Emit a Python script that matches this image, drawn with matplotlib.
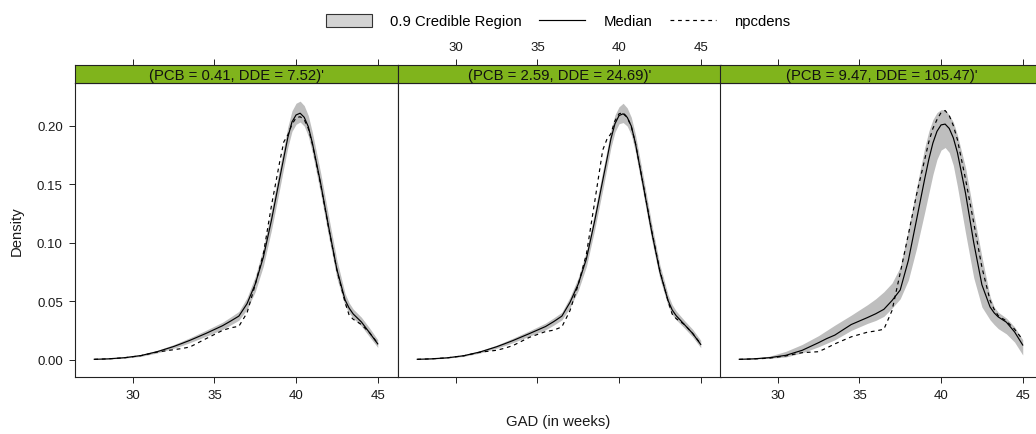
import matplotlib
matplotlib.use("Agg")
import matplotlib.pyplot as plt
from matplotlib.patches import Patch
from matplotlib.lines import Line2D

plt.rcParams['font.family'] = ['Liberation Sans', 'DejaVu Sans']

# ---------------- data ----------------
gad_weeks = [27.65, 28.5, 29.5, 30.5, 31.5, 32.5, 33.0, 33.5, 34.5, 35.5, 36.0, 36.5,
             37.0, 37.5, 38.0, 38.5, 39.0, 39.25, 39.5, 39.75, 40.0, 40.25, 40.5,
             40.75, 41.0, 41.5, 42.0, 42.5, 43.0, 43.25, 43.5, 44.0, 44.5, 45.0]

strip_labels = ["(PCB = 0.41, DDE = 7.52)'",
                "(PCB = 2.59, DDE = 24.69)'",
                "(PCB = 9.47, DDE = 105.47)'"]

median_1 = [0.0003, 0.0007, 0.0017, 0.0035, 0.0068, 0.0112, 0.0138, 0.0165, 0.0225, 0.0290, 0.0330, 0.0372,
            0.0478, 0.0645, 0.0876, 0.1195, 0.1550, 0.1725, 0.1900, 0.2030, 0.2090, 0.2105, 0.2070,
            0.1990, 0.1850, 0.1510, 0.1130, 0.0770, 0.0510, 0.0440, 0.0390, 0.0322, 0.0230, 0.0135]
lower_1 = [0.0002, 0.0005, 0.0013, 0.0028, 0.0057, 0.0097, 0.0120, 0.0145, 0.0200, 0.0258, 0.0297, 0.0337,
           0.0430, 0.0580, 0.0800, 0.1110, 0.1460, 0.1640, 0.1815, 0.1950, 0.2010, 0.2030, 0.1995,
           0.1910, 0.1765, 0.1420, 0.1045, 0.0695, 0.0460, 0.0400, 0.0355, 0.0287, 0.0195, 0.0105]
upper_1 = [0.0005, 0.0010, 0.0022, 0.0043, 0.0080, 0.0128, 0.0157, 0.0187, 0.0252, 0.0320, 0.0365, 0.0412,
           0.0530, 0.0710, 0.0955, 0.1285, 0.1640, 0.1815, 0.1990, 0.2125, 0.2190, 0.2208, 0.2170,
           0.2085, 0.1940, 0.1600, 0.1220, 0.0850, 0.0565, 0.0485, 0.0432, 0.0362, 0.0270, 0.0170]
npcdens_1 = [0.0003, 0.0007, 0.0016, 0.0034, 0.0065, 0.0085, 0.0095, 0.0108, 0.0180, 0.0250, 0.0272, 0.0285,
             0.0400, 0.0640, 0.0905, 0.1320, 0.1690, 0.1860, 0.1920, 0.2010, 0.2065, 0.2075, 0.2050,
             0.1975, 0.1840, 0.1500, 0.1120, 0.0765, 0.0490, 0.0380, 0.0345, 0.0300, 0.0230, 0.0140]

median_2 = [0.0003, 0.0007, 0.0016, 0.0034, 0.0066, 0.0110, 0.0136, 0.0163, 0.0222, 0.0283, 0.0325, 0.0372,
            0.0490, 0.0645, 0.0860, 0.1180, 0.1530, 0.1705, 0.1885, 0.2015, 0.2085, 0.2100, 0.2070,
            0.1995, 0.1850, 0.1475, 0.1090, 0.0750, 0.0505, 0.0425, 0.0375, 0.0300, 0.0225, 0.0130]
lower_2 = [0.0002, 0.0005, 0.0013, 0.0028, 0.0057, 0.0097, 0.0120, 0.0145, 0.0200, 0.0255, 0.0295, 0.0340,
           0.0445, 0.0590, 0.0795, 0.1105, 0.1450, 0.1630, 0.1810, 0.1945, 0.2015, 0.2025, 0.1995,
           0.1920, 0.1775, 0.1400, 0.1020, 0.0690, 0.0460, 0.0385, 0.0340, 0.0270, 0.0195, 0.0102]
upper_2 = [0.0005, 0.0010, 0.0021, 0.0041, 0.0077, 0.0124, 0.0153, 0.0183, 0.0246, 0.0312, 0.0357, 0.0405,
           0.0535, 0.0700, 0.0925, 0.1255, 0.1610, 0.1780, 0.1960, 0.2090, 0.2160, 0.2190, 0.2150,
           0.2070, 0.1925, 0.1550, 0.1160, 0.0810, 0.0555, 0.0470, 0.0415, 0.0335, 0.0260, 0.0165]
npcdens_2 = [0.0003, 0.0007, 0.0016, 0.0033, 0.0064, 0.0080, 0.0098, 0.0120, 0.0190, 0.0240, 0.0252, 0.0280,
             0.0420, 0.0640, 0.0900, 0.1340, 0.1790, 0.1880, 0.1930, 0.2040, 0.2100, 0.2110, 0.2070,
             0.1990, 0.1850, 0.1480, 0.1100, 0.0760, 0.0500, 0.0390, 0.0350, 0.0300, 0.0225, 0.0135]

median_3 = [0.0003, 0.0007, 0.0017, 0.0037, 0.0080, 0.0145, 0.0180, 0.0210, 0.0300, 0.0360, 0.0392, 0.0430,
            0.0505, 0.0595, 0.0848, 0.1195, 0.1545, 0.1710, 0.1850, 0.1950, 0.2005, 0.2012, 0.1975,
            0.1895, 0.1770, 0.1420, 0.1000, 0.0640, 0.0450, 0.0400, 0.0365, 0.0320, 0.0237, 0.0125]
lower_3 = [0.0002, 0.0005, 0.0012, 0.0023, 0.0058, 0.0110, 0.0140, 0.0170, 0.0250, 0.0310, 0.0335, 0.0370,
           0.0440, 0.0520, 0.0680, 0.0950, 0.1260, 0.1420, 0.1580, 0.1710, 0.1790, 0.1812, 0.1770,
           0.1660, 0.1480, 0.1080, 0.0700, 0.0450, 0.0340, 0.0300, 0.0265, 0.0220, 0.0150, 0.0040]
upper_3 = [0.0006, 0.0012, 0.0030, 0.0071, 0.0130, 0.0205, 0.0250, 0.0295, 0.0380, 0.0470, 0.0520, 0.0580,
           0.0655, 0.0790, 0.1110, 0.1470, 0.1810, 0.1950, 0.2050, 0.2110, 0.2135, 0.2134, 0.2090,
           0.2030, 0.1920, 0.1640, 0.1250, 0.0880, 0.0540, 0.0450, 0.0405, 0.0355, 0.0280, 0.0170]
npcdens_3 = [0.0003, 0.0006, 0.0013, 0.0032, 0.0060, 0.0068, 0.0100, 0.0135, 0.0195, 0.0235, 0.0245, 0.0260,
             0.0420, 0.0740, 0.1070, 0.1410, 0.1710, 0.1860, 0.1975, 0.2050, 0.2110, 0.2128, 0.2085,
             0.2000, 0.1880, 0.1540, 0.1170, 0.0790, 0.0506, 0.0430, 0.0375, 0.0330, 0.0260, 0.0170]

x_ticks = [30, 35, 40, 45]
y_ticks = [0.00, 0.05, 0.10, 0.15, 0.20]
y_tick_labels = ["0.00", "0.05", "0.10", "0.15", "0.20"]

panels = [
    (median_1, lower_1, upper_1, npcdens_1),
    (median_2, lower_2, upper_2, npcdens_2),
    (median_3, lower_3, upper_3, npcdens_3),
]

# ---------------- layout ----------------
W, H = 1036, 435
fig = plt.figure(figsize=(W / 100, H / 100), dpi=100)

panel_left_px = [75, 398, 720]
panel_w_px = 323
panel_top_px, panel_bot_px = 84, 378
strip_top_px = 66

XLIM = (26.47, 46.24)
YLIM = (-0.0148, 0.2363)
STRIP_COL = '#80B41C'
BAND_COL = '#BEBEBE'
FRAME_COL = '#222222'
TICK_FS = 9.5
TEXT_FS = 10.7

for i, (med, lo, hi, npc) in enumerate(panels):
    l = panel_left_px[i] / W
    w = panel_w_px / W
    b = 1 - panel_bot_px / H
    h = (panel_bot_px - panel_top_px) / H
    ax = fig.add_axes([l, b, w, h])
    ax.fill_between(gad_weeks, lo, hi, color=BAND_COL, lw=0)
    ax.plot(gad_weeks, med, color='black', lw=0.85)
    ax.plot(gad_weeks, npc, color='black', lw=0.85, dashes=(3.2, 3.2))
    ax.set_xlim(*XLIM)
    ax.set_ylim(*YLIM)
    for sp in ax.spines.values():
        sp.set_color(FRAME_COL)
        sp.set_linewidth(0.8)
    ax.set_xticks(x_ticks)
    ax.set_yticks(y_ticks)
    ax.set_yticklabels(y_tick_labels)
    ax.tick_params(direction='out', length=4.3, width=0.7, color=FRAME_COL,
                   labelsize=TICK_FS, labelcolor='#1a1a1a', pad=4.5)
    ax.tick_params(axis='x', top=False, bottom=True, labelbottom=(i != 1))
    if i == 0:
        ax.tick_params(axis='y', left=True, labelleft=True, right=False, labelright=False)
    elif i == 2:
        ax.tick_params(axis='y', left=False, labelleft=False, right=True, labelright=False)
    else:
        ax.tick_params(axis='y', left=False, labelleft=False, right=False, labelright=False)

    # strip
    sb = 1 - panel_top_px / H
    sh = (panel_top_px - strip_top_px) / H
    sax = fig.add_axes([l, sb, w, sh])
    sax.set_facecolor(STRIP_COL)
    sax.set_xlim(*XLIM)
    sax.set_ylim(0, 1)
    sax.set_yticks([])
    sax.set_xticks(x_ticks)
    sax.tick_params(axis='x', bottom=False, labelbottom=False, top=True, labeltop=(i == 1),
                    direction='out', length=4.3, width=0.7, color=FRAME_COL,
                    labelsize=TICK_FS, labelcolor='#1a1a1a', pad=4.5)
    for sp in sax.spines.values():
        sp.set_color(FRAME_COL)
        sp.set_linewidth(0.8)
    sax.text(0.5, 0.47, strip_labels[i], transform=sax.transAxes, ha='center', va='center',
             fontsize=TEXT_FS, color='#111111')

# axis labels
fig.text(17 / W, 1 - 231.5 / H, "Density", rotation=90, ha='center', va='center',
         fontsize=TEXT_FS, color='#1a1a1a')
fig.text(558 / W, 1 - 422 / H, "GAD (in weeks)", ha='center', va='center',
         fontsize=TEXT_FS, color='#1a1a1a')

# legend
handles = [Patch(facecolor='#D3D3D3', edgecolor='#333333', linewidth=0.8),
           Line2D([0], [0], color='black', lw=0.85),
           Line2D([0], [0], color='black', lw=0.85, dashes=(3.2, 3.2))]
fig.legend(handles, ["0.9 Credible Region", "Median", "npcdens"], ncol=3,
           loc='center', bbox_to_anchor=(558 / W, 1 - 22 / H), frameon=False,
           fontsize=TEXT_FS, handlelength=3.1, handleheight=1.0, handletextpad=1.2,
           columnspacing=1.2, borderaxespad=0, borderpad=0)

fig.savefig("out.png", dpi=100)
